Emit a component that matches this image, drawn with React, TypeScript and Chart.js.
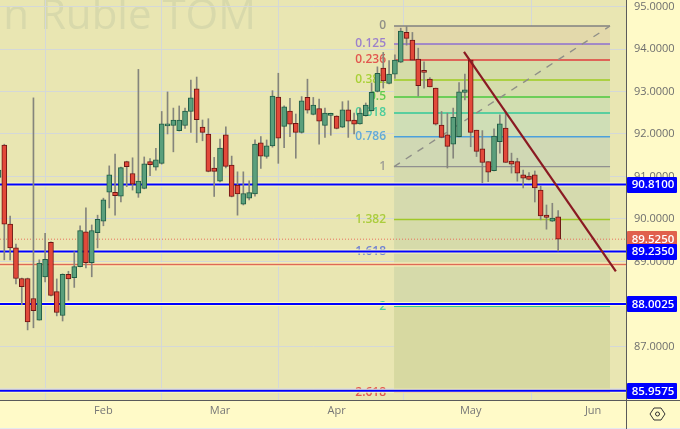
import React, { useEffect, useRef } from "react";
import { Chart, registerables } from "chart.js";

Chart.register(...registerables);

const opens = [90.98,91.74,89.88,89.32,88.60,88.60,88.13,87.62,88.64,89.45,88.29,87.73,88.70,88.62,88.88,89.70,88.97,89.68,89.95,90.63,90.63,90.54,91.35,91.07,90.61,90.72,91.35,91.22,91.31,92.19,92.20,92.08,92.20,92.53,93.06,92.16,92.00,91.20,90.89,91.98,91.27,90.80,90.35,90.49,90.59,91.79,91.47,91.72,92.87,92.18,92.54,92.25,92.04,92.86,92.46,92.60,92.20,92.44,92.42,92.16,92.57,92.33,92.24,92.43,92.55,93.00,93.55,93.19,93.41,93.69,94.39,94.21,93.76,93.48,93.29,93.08,92.21,91.98,91.76,91.94,92.98,93.74,92.09,91.65,91.35,91.14,91.82,92.14,91.36,91.35,91.04,91.01,91.04,90.68,90.09,89.95,90.05];
const highs = [91.32,91.76,90.07,89.41,88.61,88.61,92.85,89.04,89.66,89.46,88.59,88.71,88.77,89.23,89.84,90.26,89.86,90.09,90.49,91.25,91.53,91.22,91.36,91.44,93.52,91.46,91.42,91.66,92.53,92.99,92.61,92.66,92.61,93.27,93.34,92.33,92.36,91.45,91.88,92.17,91.48,91.11,91.11,90.90,91.86,91.94,91.86,93.02,93.43,92.66,92.84,92.47,92.88,93.29,92.86,92.82,92.61,92.49,92.43,92.76,92.78,92.49,92.61,92.73,93.20,93.58,93.92,93.73,93.86,94.49,94.53,94.39,94.02,93.70,93.33,93.08,92.53,92.49,92.61,93.21,93.41,93.74,92.09,92.08,91.35,92.12,92.45,92.53,91.55,91.43,91.15,91.09,91.13,90.78,90.33,90.37,90.20];
const lows = [90.68,89.04,89.04,88.47,87.98,87.39,87.44,87.62,88.52,88.19,87.72,87.60,88.09,88.39,88.87,88.85,88.64,89.32,89.84,90.26,90.09,90.40,90.76,90.68,90.51,90.71,91.02,91.15,91.29,92.00,91.58,92.07,92.13,92.04,91.80,91.84,91.11,90.53,90.87,91.20,90.52,90.09,90.33,90.45,90.54,91.19,91.43,91.69,91.31,91.68,91.94,91.43,92.02,92.49,92.45,91.76,91.92,91.97,92.12,92.15,91.92,92.00,92.23,92.42,92.54,92.99,93.08,93.18,93.31,93.68,94.09,93.73,92.89,93.08,93.11,92.21,91.91,91.20,91.43,91.93,92.80,91.70,91.47,90.85,90.88,91.13,91.55,91.33,91.08,90.89,90.73,90.92,90.40,89.98,89.76,89.94,89.25];
const closes = [91.15,89.88,89.32,88.60,88.41,87.58,87.84,88.96,89.05,88.20,87.80,88.70,88.59,88.88,89.73,88.97,89.73,89.99,90.45,91.04,90.55,91.21,91.23,90.82,90.89,91.30,91.28,91.39,92.24,92.22,92.33,92.33,92.54,92.85,92.34,92.04,91.12,91.12,91.67,91.24,90.53,90.59,90.60,90.62,91.76,91.48,91.72,92.89,91.90,92.64,92.23,92.04,92.78,92.56,92.68,92.30,92.49,92.46,92.13,92.57,92.30,92.23,92.49,92.68,92.98,93.43,93.25,93.41,93.74,94.42,94.25,93.74,93.14,93.45,93.11,92.23,91.92,91.71,92.39,92.99,93.04,92.04,91.59,91.33,91.10,91.95,92.24,91.33,91.29,91.08,90.96,90.93,90.73,90.07,90.04,90.02,89.525];

const monthLabels = ["Feb", "Mar", "Apr", "May", "Jun"];
const monthSessions = [18, 38, 58, 81, 102];
const priceTicks = [86, 87, 88, 89, 90, 91, 92, 93, 94, 95];

const blueLevels = [90.81, 89.235, 88.0025, 85.9575];
const lastPrice = 89.525;
const redLevel = 88.93;

const fibLabels = ["0", "0.125", "0.236", "0.382", "0.5", "0.618", "0.786", "1", "1.382", "1.618", "2", "2.618"];
const fibPrices = [94.541, 94.118, 93.741, 93.271, 92.871, 92.494, 91.935, 91.232, 89.988, 89.23, 87.945, 85.925];
const fibColors = ["#808080", "#8e6fd0", "#e03c3c", "#9ccc20", "#4ac83c", "#30c898", "#4ba0dc", "#909090", "#a0c828", "#5a70d8", "#30c898", "#e03c3c"];
const fibBands = ["#e3d9ab", "#dcd3a8", "#d5dcaa", "#d5ddac", "#d2deb0", "#cfdeb6", "#d0d8b4", "#d5daae", "#d6dbaa", "#d6daaa", "#d7d9a1"];
const fibStart = 67.85;
const fibEnd = 104.9;

const trendSessions = [79.85, 105.9];
const trendPrices = [93.93, 88.77];

const xMin = 0.262;
const xMax = 107.81;
const yMax = 95.153;
const yMin = 85.741;

const BG = "#e9e6b2";
const PANEL = "#fffac8";
const AXIS = "#5a5a5a";
const FONT = '"Open Sans", sans-serif';

const chromePlugin = {
  id: "chrome",
  beforeDraw(chart: any) {
    const { ctx, chartArea: a } = chart;
    ctx.save();
    ctx.fillStyle = PANEL;
    ctx.fillRect(0, 0, 680, 429);
    ctx.fillStyle = "#e6e8f0";
    ctx.fillRect(0, 428, 680, 1);
    ctx.fillStyle = BG;
    ctx.fillRect(a.left, a.top, a.right - a.left, a.bottom - a.top);
    ctx.beginPath();
    ctx.rect(a.left, a.top, a.right - a.left, a.bottom - a.top);
    ctx.clip();
    ctx.fillStyle = "#d8d9ab";
    ctx.font = `42px ${FONT}`;
    ctx.textAlign = "right";
    ctx.textBaseline = "alphabetic";
    ctx.fillText("USD/Russian Ruble TOM", 256, 29);
    ctx.restore();
  },
  beforeDatasetsDraw(chart: any) {
    const { ctx, scales } = chart;
    ctx.save();
    ctx.font = `600 12px ${FONT}`;
    ctx.textAlign = "right";
    ctx.textBaseline = "middle";
    fibLabels.forEach((label, i) => {
      ctx.fillStyle = fibColors[i];
      ctx.globalAlpha = 0.85;
      ctx.fillText(label, 386, scales.y.getPixelForValue(fibPrices[i]));
    });
    ctx.restore();
  },
  afterDraw(chart: any) {
    const { ctx, scales } = chart;
    ctx.save();
    ctx.strokeStyle = AXIS;
    ctx.lineWidth = 1;
    ctx.beginPath();
    ctx.moveTo(0, 400.5);
    ctx.lineTo(680, 400.5);
    ctx.moveTo(626.5, 0);
    ctx.lineTo(626.5, 429);
    ctx.stroke();

    const box = (value: number, color: string, text: string) => {
      const y = scales.y.getPixelForValue(value);
      ctx.fillStyle = color;
      ctx.beginPath();
      ctx.roundRect(627, Math.round(y) - 8, 50, 16, 1);
      ctx.fill();
      ctx.fillStyle = "#ffffff";
      ctx.font = `600 11.5px ${FONT}`;
      ctx.textAlign = "center";
      ctx.textBaseline = "middle";
      ctx.fillText(text, 653, y + 0.5);
    };
    box(lastPrice, "#e0604c", lastPrice.toFixed(4));
    blueLevels.forEach((v) => box(v, "#0000ff", v.toFixed(4)));

    const cx = 657.5;
    const cy = 414;
    ctx.strokeStyle = "#333333";
    ctx.lineWidth = 1;
    ctx.beginPath();
    [[-7.5, 0], [-3.5, -6], [3.5, -6], [7.5, 0], [3.5, 6], [-3.5, 6]].forEach(([dx, dy], i) => {
      if (i === 0) ctx.moveTo(cx + dx, cy + dy);
      else ctx.lineTo(cx + dx, cy + dy);
    });
    ctx.closePath();
    ctx.moveTo(cx + 2, cy);
    ctx.arc(cx, cy, 2, 0, Math.PI * 2);
    ctx.stroke();
    ctx.restore();
  },
};

const sessions = opens.map((_, i) => i);
const isUp = (i: number) => closes[i] >= opens[i];

const hLine = (y: number, color: string, width: number, order: number, dash: number[] = []) => ({
  type: "line" as const,
  data: [{ x: xMin, y }, { x: xMax, y }],
  borderColor: color,
  borderWidth: width,
  borderDash: dash,
  pointRadius: 0,
  order,
});

const noPadding = (s: any) => {
  s.paddingTop = 0;
  s.paddingBottom = 0;
  s.paddingLeft = 0;
  s.paddingRight = 0;
};

export default function App() {
  const ref = useRef<HTMLCanvasElement | null>(null);
  useEffect(() => {
    document.body.style.margin = "0";
    const fibSets = fibPrices.map((y, i) => ({
      type: "line" as const,
      data: [{ x: fibStart, y }, { x: fibEnd, y }],
      borderColor: fibColors[i],
      borderWidth: 1.3,
      pointRadius: 0,
      backgroundColor: fibBands[i] ?? "transparent",
      fill: i < fibBands.length ? { target: { value: fibPrices[i + 1] } } : false,
      order: 8,
    }));
    const chart = new Chart(ref.current as HTMLCanvasElement, {
      type: "bar",
      data: {
        datasets: [
          ...fibSets,
          {
            type: "line",
            data: [{ x: fibStart, y: fibPrices[7] }, { x: fibEnd, y: fibPrices[0] }],
            borderColor: "#8f8f88",
            borderWidth: 1.4,
            borderDash: [7, 7],
            pointRadius: 0,
            order: 7,
          },
          hLine(redLevel, "#fbf3bc", 4, 6),
          hLine(redLevel, "#dd6a55", 1.6, 5),
          hLine(lastPrice, "#e8705c", 1, 5, [1, 2]),
          ...blueLevels.map((v) => hLine(v, "#fdf8c4", 4, 6)),
          ...blueLevels.map((v) => hLine(v, "#0000ff", 2, 4)),
          {
            type: "bar",
            data: sessions.map((x) => ({ x, y: [lows[x], highs[x]] })),
            backgroundColor: "#85857c",
            borderWidth: 0,
            barThickness: 1,
            grouped: false,
            order: 3,
          },
          {
            type: "bar",
            data: sessions.map((x) => ({ x, y: [opens[x], closes[x]] })),
            backgroundColor: sessions.map((i) => (isUp(i) ? "#5a9f7c" : "#e2493a")),
            borderColor: sessions.map((i) => (isUp(i) ? "#1f5c44" : "#6e1512")),
            borderWidth: 1,
            borderSkipped: false,
            barThickness: 5,
            minBarLength: 2,
            grouped: false,
            order: 2,
          },
          {
            type: "line",
            data: trendSessions.map((x, i) => ({ x, y: trendPrices[i] })),
            borderColor: "#8a1a22",
            borderWidth: 2.2,
            pointRadius: 0,
            order: 1,
          },
        ] as any,
      },
      options: {
        animation: false,
        responsive: false,
        events: [],
        layout: { padding: 0 },
        plugins: {
          legend: { display: false },
          tooltip: { enabled: false },
          filler: { drawTime: "beforeDatasetsDraw" },
        } as any,
        scales: {
          x: {
            type: "linear",
            min: xMin,
            max: xMax,
            offset: false,
            afterBuildTicks: (s: any) => {
              s.ticks = monthSessions.map((value) => ({ value }));
            },
            afterFit: (s: any) => {
              s.height = 29;
              noPadding(s);
            },
            grid: { color: "#d4d8d8", lineWidth: 1, drawTicks: false },
            border: { display: false },
            ticks: {
              autoSkip: false,
              maxRotation: 0,
              padding: 4,
              color: "#777777",
              font: { family: FONT, size: 11 },
              callback: (v: any) => monthLabels[monthSessions.indexOf(Number(v))] ?? "",
            },
          },
          y: {
            type: "linear",
            position: "right",
            min: yMin,
            max: yMax,
            afterBuildTicks: (s: any) => {
              s.ticks = priceTicks.map((value) => ({ value }));
            },
            afterFit: (s: any) => {
              s.width = 53;
              noPadding(s);
            },
            grid: { color: "#d4d8d8", lineWidth: 1, drawTicks: false },
            border: { display: false },
            ticks: {
              padding: 7,
              color: "#6e6e6e",
              font: { family: FONT, size: 11 },
              callback: (v: any) => Number(v).toFixed(4),
            },
          },
        },
      } as any,
      plugins: [chromePlugin],
    });
    return () => chart.destroy();
  }, []);
  return <canvas ref={ref} width={680} height={429} style={{ display: "block" }} />;
}
